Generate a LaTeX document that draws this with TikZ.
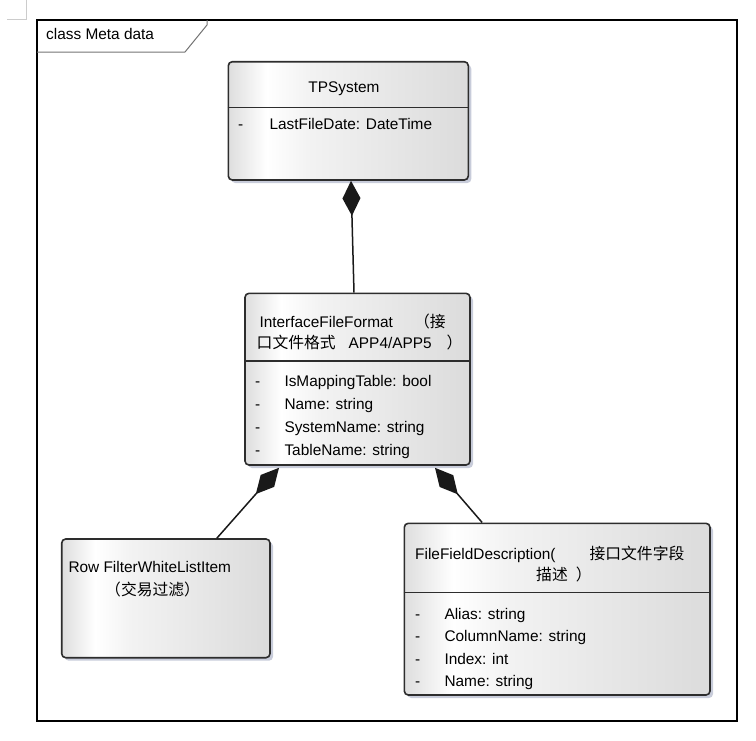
\documentclass[tikz,border=0pt]{standalone}
\usepackage{fontspec}
\setmainfont{Liberation Sans}
\newfontfamily\cjk{Noto Sans CJK SC}
\usetikzlibrary{arrows.meta,shadows}
\definecolor{shadowc}{RGB}{200,204,218}
\definecolor{edgec}{RGB}{45,45,45}
\pgfdeclarehorizontalshading{umlshade}{100bp}{color(0bp)=(black!13); color(25bp)=(black!13); color(33bp)=(white); color(42bp)=(black!5); color(75bp)=(black!14); color(100bp)=(black!14)}
\tikzset{
  umlbox/.style={draw=edgec, line width=1.6pt, rounded corners=4pt, shading=umlshade,
    drop shadow={shadow xshift=3pt, shadow yshift=-3pt, fill=shadowc, opacity=1},
    inner sep=0pt},
  divider/.style={draw=edgec, line width=1.6pt},
  txt/.style={inner sep=0pt, anchor=base west, font=\fontsize{15.4}{18}\selectfont},
  ctxt/.style={inner sep=0pt, anchor=base, font=\fontsize{15.4}{18}\selectfont},
  comp/.style={draw=black!90, line width=1.5pt, line join=miter, {Diamond[length=35pt,width=18pt]}-},
}
\newcommand{\zh}[1]{{\cjk\fontsize{15.8}{18}\selectfont #1}}
\begin{document}
\begin{tikzpicture}[x=1pt,y=-1pt]
\useasboundingbox (0,0) rectangle (756,740);
% corner mark
\draw[black!20, line width=0.8pt] (26,0) -- (26,19) -- (7,19);
% frame
\draw[black, line width=1.4pt] (37,20) -- (737,20) -- (737,721) -- (37,721) -- cycle;
\draw[black!55, line width=1pt] (37,52) -- (185,52) -- (207,25) -- (207,20);
\node[txt] (title) at (46,39.3) {class Meta data};

% boxes
\node[umlbox, minimum width=240pt, minimum height=118.3pt] (tp) at (348.3,120.85) {};
\node[umlbox, minimum width=225pt, minimum height=171.7pt] (iff) at (357.5,379.15) {};
\node[umlbox, minimum width=208.3pt, minimum height=118.7pt] (row) at (165.85,598.35) {};
\node[umlbox, minimum width=305.7pt, minimum height=171.7pt] (ffd) at (557.15,609.15) {};

% dividers
\draw[divider] (tp.west |- 0,107.3) -- (tp.east |- 0,107.3);
\draw[divider] (iff.west |- 0,361) -- (iff.east |- 0,361);
\draw[divider] (ffd.west |- 0,592.3) -- (ffd.east |- 0,592.3);

% TPSystem
\node[ctxt] (tpname) at (344,92.3) {TPSystem};
\node[txt] (tpd1) at (238,129) {-};
\node[txt] (tpa1) at (269.3,129) {LastFileDate: DateTime};

% InterfaceFileFormat
\node[txt] (iffn1) at (259.3,327.3) {InterfaceFileFormat\hspace{21pt}\zh{（接}};
\node[txt] (iffn2) at (256.5,348.3) {\zh{口文件格式}\hspace{13pt}APP4/APP5\hspace{15pt}\zh{）}};
\node[txt] (iffd1) at (255,386) {-};
\node[txt] (iffa1) at (284.3,386) {IsMappingTable: bool};
\node[txt] (iffd2) at (255,409.5) {-};
\node[txt] (iffa2) at (284.3,409.5) {Name: string};
\node[txt] (iffd3) at (255,432.5) {-};
\node[txt] (iffa3) at (284.3,432.5) {SystemName: string};
\node[txt] (iffd4) at (255,455.7) {-};
\node[txt] (iffa4) at (284.3,455.7) {TableName: string};

% Row FilterWhiteListItem
\node[txt] (rown1) at (68.3,572.7) {Row FilterWhiteListItem};
\node[txt] (rown2) at (105,595.5) {\zh{（交易过滤）}};

% FileFieldDescription
\node[txt] (ffdn1) at (415,559.3) {FileFieldDescription(\hspace{34pt}\zh{接口文件字段}};
\node[txt] (ffdn2) at (536,580.7) {\zh{描述}\hspace{8pt}\zh{）}};
\node[txt] (ffdd1) at (415,619.3) {-};
\node[txt] (ffda1) at (444.3,619.3) {Alias: string};
\node[txt] (ffdd2) at (415,641.7) {-};
\node[txt] (ffda2) at (444.3,641.7) {ColumnName: string};
\node[txt] (ffdd3) at (415,664) {-};
\node[txt] (ffda3) at (444.3,664) {Index: int};
\node[txt] (ffdd4) at (415,686) {-};
\node[txt] (ffda4) at (444.3,686) {Name: string};

% compositions
\draw[comp] ([xshift=2.7pt]tp.south) -- ([xshift=-3.5pt]iff.north);
\draw[comp] ([xshift=-78.5pt,yshift=-2pt]iff.south) -- ([xshift=51pt]row.north);
\draw[comp] ([xshift=77.5pt,yshift=-2pt]iff.south) -- ([xshift=-75pt]ffd.north);
\end{tikzpicture}
\end{document}
